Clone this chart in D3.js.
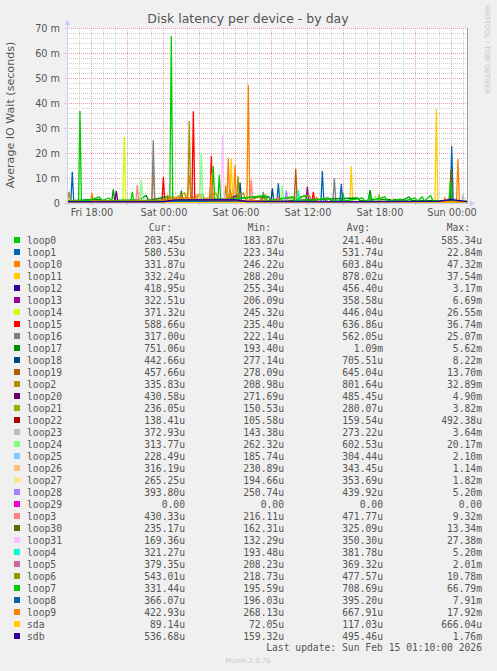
<!DOCTYPE html>
<html>
<head>
<meta charset="utf-8">
<script src="https://cdn.jsdelivr.net/npm/d3@7"></script>
<style>
  body { margin: 0; background: #f0f0f0; }
  svg { display: block; }
</style>
</head>
<body>
<script>
// hours since Fri 16:00, values in milliseconds
const names = ['loop0', 'loop1', 'loop10', 'loop11', 'loop12', 'loop13', 'loop14', 'loop15', 'loop16', 'loop17',
    'loop18', 'loop19', 'loop2', 'loop20', 'loop21', 'loop22', 'loop23', 'loop24', 'loop25', 'loop26', 'loop27',
    'loop28', 'loop29', 'loop3', 'loop30', 'loop31', 'loop4', 'loop5', 'loop6', 'loop7', 'loop8', 'loop9', 'sda', 'sdb'];
const colors = ['#00CC00', '#0066B3', '#FF8000', '#FFCC00', '#330099', '#990099', '#CCFF00', '#FF0000', '#808080',
    '#008F00', '#00487D', '#B35A00', '#B38F00', '#6B006B', '#8FB300', '#B30000', '#BEBEBE', '#80FF80', '#80C9FF',
    '#FFC080', '#FFE680', '#AA80FF', '#EE00CC', '#FF8080', '#666600', '#FFBFFF', '#00FFCC', '#CC6699', '#999900',
    '#00CC00', '#0066B3', '#FF8000', '#FFCC00', '#330099'];
const cur = ['203.45u', '580.53u', '331.87u', '332.24u', '418.95u', '322.51u', '371.32u', '588.66u', '317.00u', '751.06u',
    '442.66u', '457.66u', '335.83u', '430.58u', '236.05u', '138.41u', '372.93u', '313.77u', '228.49u', '316.19u',
    '265.25u', '393.80u', '0.00', '430.33u', '235.17u', '169.36u', '321.27u', '379.35u', '543.01u', '331.44u',
    '366.07u', '422.93u', '89.14u', '536.68u'];
const min = ['183.87u', '223.34u', '246.22u', '288.20u', '255.34u', '206.09u', '245.32u', '235.40u', '222.14u', '193.40u',
    '277.14u', '278.09u', '208.98u', '271.69u', '150.53u', '105.58u', '143.38u', '262.32u', '185.74u', '230.89u',
    '194.66u', '250.74u', '0.00', '216.11u', '162.31u', '132.29u', '193.48u', '208.23u', '218.73u', '195.59u',
    '196.03u', '268.13u', '72.05u', '159.32u'];
const avg = ['241.40u', '531.74u', '603.84u', '878.02u', '456.40u', '358.58u', '446.04u', '636.86u', '562.05u', '1.09m',
    '705.51u', '645.04u', '801.64u', '485.45u', '280.07u', '159.54u', '273.22u', '602.53u', '304.44u', '343.45u',
    '353.69u', '439.92u', '0.00', '471.77u', '325.09u', '350.30u', '381.78u', '369.32u', '477.57u', '708.69u',
    '395.20u', '667.91u', '117.03u', '495.46u'];
const max = ['585.34u', '22.84m', '47.32m', '37.54m', '3.17m', '6.69m', '26.55m', '36.74m', '25.07m', '5.62m',
    '8.22m', '13.70m', '32.89m', '4.90m', '3.82m', '492.38u', '3.64m', '20.17m', '2.10m', '1.14m',
    '1.82m', '5.20m', '0.00', '9.32m', '13.34m', '27.38m', '5.20m', '2.01m', '10.78m', '66.79m',
    '7.91m', '17.92m', '666.04u', '1.76m'];

const loop0 = [[0, 0.2], [4, 0.3], [9, 0.25], [12, 0.55], [12.5, 0.3], [20, 0.2], [25, 0.35], [30, 0.25], [33.33, 0.2]];
const loop1 = [[0, 0.4], [0.32, 0.5], [0.44, 12.5], [0.56, 0.5], [10, 0.6], [21.16, 0.5], [21.28, 12.8], [21.4, 0.5],
    [31.94, 0.6], [32.06, 22.8], [32.18, 0.6], [33.33, 0.58]];
const loop10 = [[0, 0.3], [1.96, 0.4], [2.08, 4], [2.2, 0.4], [7.07, 0.5], [7.19, 13.9], [7.31, 0.6], [8.5, 1.5],
    [8.8, 2.8], [9.1, 1.2], [10.0, 2.5], [10.19, 11], [10.35, 2.0], [11.0, 3.5], [11.3, 1.4], [11.8, 2.2],
    [12.4, 4], [12.6, 1.4], [13.88, 1], [14.0, 15.2], [14.12, 1], [14.99, 0.8], [15.11, 47.3], [15.23, 0.8],
    [16.0, 0.5], [16.2, 2.2], [16.4, 0.5], [18, 0.4], [20.7, 0.4], [20.8, 2.5], [20.9, 0.4], [25, 0.4],
    [31.4, 0.5], [31.5, 2], [31.6, 0.5], [33.33, 0.33]];
const loop11 = [[0, 0.3], [13.57, 0.4], [13.69, 17.9], [13.81, 0.4], [16.5, 0.4], [16.6, 3.5], [16.7, 0.4],
    [23.57, 0.3], [23.69, 14.8], [23.81, 0.3], [30.66, 0.3], [30.78, 37.5], [30.9, 0.3], [33.33, 0.33]];
const loop12 = [[0, 0.45], [6, 0.4], [9, 0.9], [11, 1.4], [13, 0.8], [14.2, 3.1], [14.4, 0.6], [22, 0.4], [33.33, 0.42]];
const loop13 = [[0, 0.3], [19.91, 0.4], [20.03, 6.6], [20.15, 0.4], [33.33, 0.32]];
const loop14 = [[0, 0.3], [4.66, 0.4], [4.78, 26.5], [4.9, 0.4], [33.33, 0.37]];
const loop15 = [[0, 0.4], [7.91, 0.6], [8.03, 10.3], [8.15, 0.6], [10.41, 0.8], [10.53, 36.7], [10.65, 0.8],
    [11.91, 0.8], [12.03, 18.8], [12.15, 0.8], [20.41, 0.5], [20.53, 4.5], [20.65, 0.5], [33.33, 0.59]];
const loop16 = [[0, 0.4], [7.07, 0.5], [7.19, 25.1], [7.31, 0.5], [16.24, 0.5], [16.36, 4.5], [16.48, 0.5],
    [22.16, 0.5], [22.28, 9.9], [22.4, 0.5], [33.33, 0.32]];
const loop17 = [[0, 0.8], [1.5, 1.2], [2.5, 1.5], [3.2, 0.9], [3.74, 1], [3.86, 5.5], [3.98, 1], [6, 1.2], [6.6, 3],
    [6.8, 1], [8.3, 2.5], [8.5, 1], [9.41, 1], [9.53, 5], [9.65, 1], [16.8, 2.5], [17.0, 0.9], [18, 0.9],
    [23, 1.8], [24.2, 2], [24.4, 0.9], [25.13, 1], [25.25, 5.2], [25.37, 1.5], [28, 1.2], [28.5, 2.5],
    [28.7, 1], [33.33, 0.75]];
const loop18 = [[0, 0.5], [14.3, 0.7], [14.42, 8.2], [14.54, 0.7], [16.99, 0.6], [17.11, 5.9], [17.23, 0.6],
    [33.33, 0.44]];
const loop19 = [[0, 0.5], [9, 1.2], [18.94, 0.6], [19.06, 13.7], [19.18, 0.6], [33.33, 0.46]];
const loop2 = [[0, 0.4], [0.05, 1], [0.17, 4.5], [0.29, 1], [8, 0.8], [8.4, 3], [8.6, 0.9], [9.8, 4], [10.0, 1],
    [10.07, 1], [10.19, 32.8], [10.31, 1], [11.3, 3.5], [11.5, 1], [13.11, 1], [13.23, 7], [13.35, 1], [13.6, 5],
    [13.8, 1], [14.7, 4], [14.9, 0.8], [16.1, 2.5], [16.3, 0.6], [20.2, 3], [20.4, 0.5], [33.33, 0.34]];
const loop20 = [[0, 0.4], [3.99, 0.5], [4.11, 4.8], [4.23, 0.5], [33.33, 0.43]];
const loop21 = [[0, 0.3], [25.9, 0.3], [26.0, 3.5], [26.1, 0.3], [33.33, 0.24]];
const loop22 = [[0, 0.15], [15, 0.2], [33.33, 0.14]];
const loop23 = [[0, 0.25], [32.9, 0.3], [33.0, 3.6], [33.1, 0.3], [33.33, 0.37]];
const loop24 = [[0, 0.5], [6.07, 0.6], [6.19, 9.2], [6.31, 0.6], [11.07, 0.6], [11.19, 20.1], [11.31, 0.6],
    [17.82, 0.6], [17.94, 6.8], [18.06, 0.6], [25.6, 0.5], [25.7, 3], [25.8, 0.5], [33.33, 0.31]];
const loop25 = [[0, 0.3], [12.5, 0.4], [12.6, 2.1], [12.7, 0.4], [33.33, 0.23]];
const loop26 = [[0, 0.3], [15.6, 0.4], [15.7, 1.1], [15.8, 0.4], [33.33, 0.32]];
const loop27 = [[0, 0.3], [27, 0.4], [27.1, 1.8], [27.2, 0.4], [33.33, 0.27]];
const loop28 = [[0, 0.4], [18.16, 0.5], [18.28, 5.1], [18.4, 0.5], [33.33, 0.39]];
const loop29 = [[0, 0], [33.33, 0]];
const loop3 = [[0, 0.4], [5.74, 0.5], [5.86, 7.2], [5.98, 0.5], [15.24, 0.5], [15.36, 9.3], [15.48, 0.5],
    [33.33, 0.43]];
const loop30 = [[0, 0.3], [31.88, 0.4], [32.0, 13.3], [32.12, 0.4], [33.33, 0.24]];
const loop31 = [[0, 0.3], [12.85, 0.4], [12.97, 27.3], [13.09, 0.4], [33.33, 0.17]];
const loop4 = [[0, 0.3], [19.16, 0.4], [19.28, 5.2], [19.4, 0.4], [33.33, 0.32]];
const loop5 = [[0, 0.3], [21.5, 0.4], [21.6, 2], [21.7, 0.4], [33.33, 0.38]];
const loop6 = [[0, 0.4], [14.13, 0.5], [14.25, 10.7], [14.37, 0.5], [33.33, 0.54]];
const loop7 = [[0, 0.5], [0.96, 0.8], [1.08, 36.8], [1.2, 0.8], [1.9, 1.2], [2.7, 2.5], [2.9, 0.8], [3.5, 2],
    [3.7, 0.8], [5.32, 0.8], [5.44, 4.5], [5.56, 0.8], [8.57, 1], [8.69, 66.8], [8.81, 1], [12.07, 1],
    [12.19, 14.8], [12.31, 1], [12.57, 1], [12.69, 11.3], [12.81, 1], [16.5, 3], [16.7, 0.8], [18.8, 2.5],
    [19.0, 0.8], [19.8, 3], [20.0, 0.8], [21.8, 2], [22.0, 0.8], [22.88, 0.8], [23.0, 4], [23.12, 0.8],
    [24.6, 2], [24.8, 0.8], [25.1, 1.2], [25.2, 3.5], [25.3, 0.9], [26.5, 2.5], [26.7, 0.7], [27.8, 1.5],
    [28.0, 0.7], [29.0, 2], [29.2, 0.7], [29.6, 2.5], [29.8, 0.8], [30.3, 3], [30.5, 0.8], [31.83, 1],
    [31.95, 8.5], [32.07, 1], [33.33, 0.33]];
const loop8 = [[0, 0.4], [17.49, 0.5], [17.61, 7.9], [17.73, 0.5], [22.74, 0.5], [22.86, 7.7], [22.98, 0.5],
    [33.33, 0.37]];
const loop9 = [[0, 0.4], [8, 0.8], [9.5, 2.2], [11.91, 1], [12.03, 12], [12.15, 1], [13.32, 1], [13.44, 17.9],
    [13.56, 1], [17.5, 0.5], [17.61, 2.5], [17.7, 0.5], [32.46, 0.6], [32.58, 17.6], [32.7, 0.5], [33.33, 0.42]];
const sda = [[0, 0.1], [12, 0.12], [33.33, 0.09]];
const sdb = [[0, 0.5], [8, 0.5], [9, 1.2], [14, 1.3], [15, 0.6], [24, 0.5], [31, 0.7], [32, 1.4], [33.33, 0.54]];

const series = [loop0, loop1, loop10, loop11, loop12, loop13, loop14, loop15, loop16, loop17, loop18, loop19, loop2,
    loop20, loop21, loop22, loop23, loop24, loop25, loop26, loop27, loop28, loop29, loop3, loop30, loop31, loop4,
    loop5, loop6, loop7, loop8, loop9, sda, sdb];

const xTickHours = [2, 8, 14, 20, 26, 32];
const xTickLabels = ['Fri 18:00', 'Sat 00:00', 'Sat 06:00', 'Sat 12:00', 'Sat 18:00', 'Sun 00:00'];

const width = 497, height = 671;
const pLeft = 67, pRight = 467, pTop = 28, pBottom = 203;
const textColor = '#555';

const svg = d3.select('body').append('svg')
    .attr('width', width)
    .attr('height', height)
    .style('font-family', 'DejaVu Sans, sans-serif');

svg.append('rect').attr('width', width).attr('height', height).attr('fill', '#f0f0f0');

const x = d3.scaleLinear().domain([0, 33.333]).range([pLeft, pRight]);
const y = d3.scaleLinear().domain([0, 70]).range([pBottom, pTop]);

// canvas
svg.append('rect')
    .attr('x', pLeft).attr('y', pTop)
    .attr('width', pRight - pLeft).attr('height', pBottom - pTop)
    .attr('fill', '#ffffff');

const grid = svg.append('g').attr('shape-rendering', 'crispEdges');

// minor grid
grid.selectAll('.vminor')
    .data(d3.range(1, 34).filter(h => (h - 2) % 3 !== 0))
    .join('line')
    .attr('x1', h => Math.round(x(h)) + 0.5).attr('x2', h => Math.round(x(h)) + 0.5)
    .attr('y1', pTop).attr('y2', pBottom)
    .attr('stroke', '#cfcfcf').attr('stroke-dasharray', '1,1');

grid.selectAll('.hminor')
    .data(d3.range(2, 71, 2).filter(v => v % 10 !== 0))
    .join('line')
    .attr('x1', pLeft).attr('x2', pRight)
    .attr('y1', v => Math.round(y(v)) + 0.5).attr('y2', v => Math.round(y(v)) + 0.5)
    .attr('stroke', '#cfcfcf').attr('stroke-dasharray', '1,1');

// major grid
grid.selectAll('.vmajor')
    .data(d3.range(2, 34, 3))
    .join('line')
    .attr('x1', h => Math.round(x(h)) + 0.5).attr('x2', h => Math.round(x(h)) + 0.5)
    .attr('y1', pTop).attr('y2', pBottom + 2)
    .attr('stroke', '#e4a0a0').attr('stroke-dasharray', '1,1');

grid.selectAll('.hmajor')
    .data(y.ticks(7).filter(v => v > 0))
    .join('line')
    .attr('x1', pLeft - 2).attr('x2', pRight)
    .attr('y1', v => Math.round(y(v)) + 0.5).attr('y2', v => Math.round(y(v)) + 0.5)
    .attr('stroke', '#e4a0a0').attr('stroke-dasharray', '1,1');

// data lines
svg.append('clipPath').attr('id', 'plot')
    .append('rect').attr('x', pLeft).attr('y', pTop - 1).attr('width', pRight - pLeft).attr('height', pBottom - pTop + 1);

const line = d3.line().x(d => x(d[0])).y(d => y(d[1]));

svg.append('g').attr('clip-path', 'url(#plot)')
    .selectAll('path')
    .data(series)
    .join('path')
    .attr('d', line)
    .attr('fill', 'none')
    .attr('stroke', (d, i) => colors[i])
    .attr('stroke-width', 1.3)
    .attr('stroke-linejoin', 'miter');

// frame on the right
svg.append('line')
    .attr('x1', pRight + 0.5).attr('x2', pRight + 0.5)
    .attr('y1', pTop).attr('y2', pBottom)
    .attr('stroke', '#a0a0a0');

// axes with arrows
const axisColor = '#c8cff4';
svg.append('line')
    .attr('x1', pLeft + 0.5).attr('x2', pLeft + 0.5)
    .attr('y1', pBottom + 2).attr('y2', pTop - 5)
    .attr('stroke', axisColor);
svg.append('path')
    .attr('d', `M${pLeft - 2.5},${pTop - 3}L${pLeft + 3.5},${pTop - 3}L${pLeft + 0.5},${pTop - 8}Z`)
    .attr('fill', axisColor);
svg.append('line')
    .attr('x1', pLeft - 3).attr('x2', pRight + 5)
    .attr('y1', pBottom + 0.5).attr('y2', pBottom + 0.5)
    .attr('stroke', axisColor);
svg.append('path')
    .attr('d', `M${pRight + 3},${pBottom - 2.5}L${pRight + 3},${pBottom + 3.5}L${pRight + 8},${pBottom + 0.5}Z`)
    .attr('fill', axisColor);

// tick labels
svg.append('g')
    .selectAll('text')
    .data(y.ticks(7))
    .join('text')
    .attr('x', 60)
    .attr('y', v => y(v) + 3.5)
    .attr('text-anchor', 'end')
    .attr('font-size', 9.7)
    .attr('fill', textColor)
    .text(v => v === 0 ? '0' : `${v} m`);

svg.append('g')
    .selectAll('text')
    .data(xTickHours)
    .join('text')
    .attr('x', h => x(h) + 1)
    .attr('y', 216)
    .attr('text-anchor', 'middle')
    .attr('font-size', 9.7)
    .attr('fill', textColor)
    .text((h, i) => xTickLabels[i]);

// titles
svg.append('text')
    .attr('x', 248).attr('y', 23)
    .attr('text-anchor', 'middle')
    .attr('font-size', 12.5)
    .attr('fill', textColor)
    .text('Disk latency per device - by day');

svg.append('text')
    .attr('transform', 'translate(14,115) rotate(-90)')
    .attr('text-anchor', 'middle')
    .attr('font-size', 11.1)
    .attr('fill', textColor)
    .text('Average IO Wait (seconds)');

svg.append('text')
    .attr('transform', 'translate(485,5) rotate(90)')
    .attr('text-anchor', 'start')
    .attr('font-size', 6.9)
    .attr('fill', '#c4c4c4')
    .text('RRDTOOL / TOBI OETIKER');

// legend
const legend = svg.append('g')
    .style('font-family', 'DejaVu Sans Mono, monospace')
    .attr('font-size', 9.7)
    .attr('fill', textColor);

const columns = [['Cur:', 172, cur], ['Min:', 271, min], ['Avg:', 370, avg], ['Max:', 470, max]];
const valueRight = [185, 284, 383, 482];

legend.selectAll('.head')
    .data(columns)
    .join('text')
    .attr('x', d => d[1])
    .attr('y', 230.5)
    .attr('text-anchor', 'end')
    .text(d => d[0]);

const rows = legend.selectAll('.row')
    .data(names)
    .join('g')
    .attr('transform', (d, i) => `translate(0,${240 + i * 12})`);

rows.append('rect')
    .attr('x', 14).attr('y', -3)
    .attr('width', 6).attr('height', 6)
    .attr('fill', (d, i) => colors[i]);

rows.append('text')
    .attr('x', 27).attr('y', 3.5)
    .text(d => d);

columns.forEach((c, j) => {
    rows.append('text')
        .attr('x', valueRight[j]).attr('y', 3.5)
        .attr('text-anchor', 'end')
        .text((d, i) => c[2][i]);
});

legend.append('text')
    .attr('x', 482).attr('y', 650.5)
    .attr('text-anchor', 'end')
    .text('Last update: Sun Feb 15 01:10:00 2026');

svg.append('text')
    .attr('x', 248).attr('y', 663)
    .attr('text-anchor', 'middle')
    .attr('font-size', 6.9)
    .attr('fill', '#c8c8c8')
    .text('Munin 2.0.76');
</script>
</body>
</html>
